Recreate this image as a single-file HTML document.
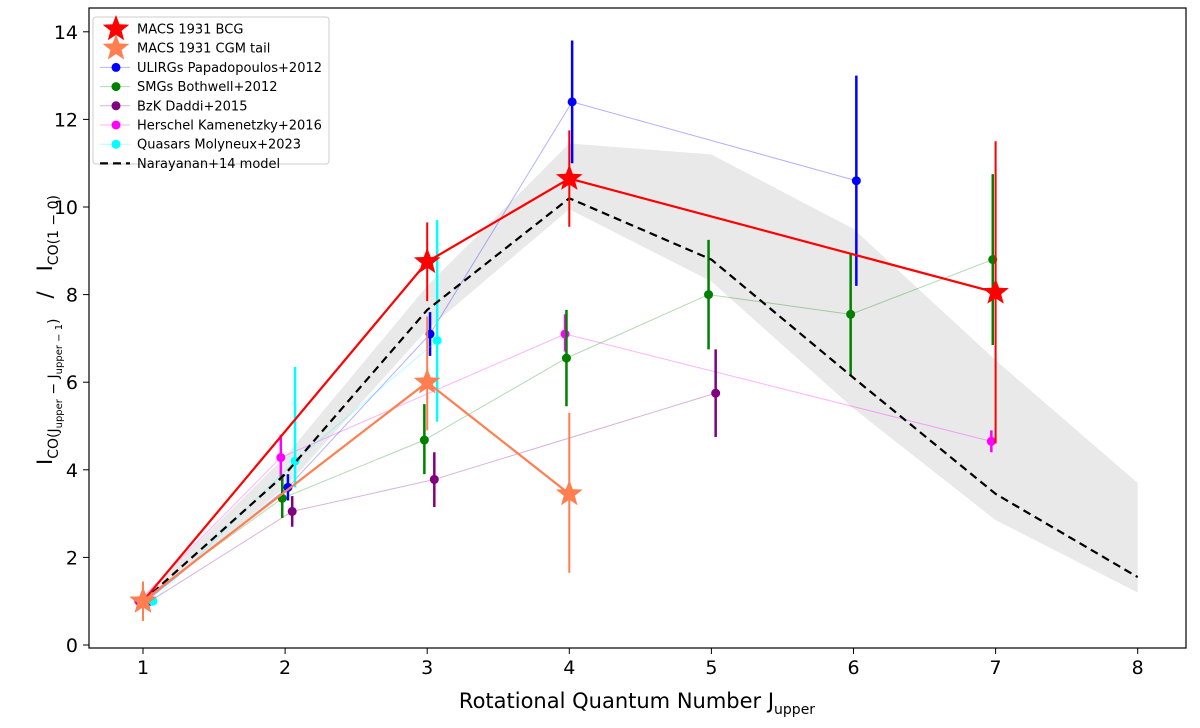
<!DOCTYPE html>
<html><head><meta charset="utf-8"><style>body{margin:0;background:#fff}svg{display:block;font-family:"DejaVu Sans","Liberation Sans",sans-serif}</style></head>
<body>
<svg id="chart" width="1200" height="728" viewBox="0 0 1200 728" xmlns="http://www.w3.org/2000/svg">
<g id="band"></g>
<g id="series"></g>
<rect x="89" y="8" width="1097" height="640" fill="none" stroke="#000" stroke-width="1.2"/>
<g id="xticks"></g>
<g id="yticks"></g>
<text x="637" y="708" font-size="21" text-anchor="middle">Rotational Quantum Number J<tspan font-size="14" dy="6">upper</tspan></text>
<text transform="translate(52,330) rotate(-90)" font-size="21" text-anchor="middle">I<tspan font-size="14" dy="6">CO(J</tspan><tspan font-size="10" dy="4">upper</tspan><tspan font-size="14" dy="-4"> − J</tspan><tspan font-size="10" dy="4">upper − 1</tspan><tspan font-size="14" dy="-4">)</tspan><tspan dy="-6" dx="20">/</tspan><tspan dx="20">I</tspan><tspan font-size="14" dy="6">CO(1 − 0)</tspan></text>
<g>
<rect x="93" y="17" width="236" height="147" rx="3" fill="#fff" fill-opacity="0.8" stroke="#ccc"/>
<g id="legend-items"></g>
</g>
</svg>
<script>
const xTicks=[1,2,3,4,5,6,7,8];
const yTicks=[0,2,4,6,8,10,12,14];
const modelJ=[1,2,3,4,5,6,7,8];
const modelVal=[1,3.9,7.65,10.2,8.8,6.1,3.45,1.55];
const modelHi=[1.1,4.3,8.2,11.45,11.2,9.5,6.5,3.7];
const modelLo=[0.9,3.6,7.2,9.95,8.3,5.4,2.85,1.2];
const bcgJ=[1,3,4,7], bcgV=[1,8.75,10.65,8.05], bcgLo=[1,7.85,9.55,4.6], bcgHi=[1,9.65,11.75,11.5];
const cgmJ=[1,3,4], cgmV=[1,6.0,3.45], cgmLo=[0.55,4.9,1.65], cgmHi=[1.45,7.5,5.3];
const ulJ=[1.02,2.02,3.02,4.02,6.02], ulV=[1,3.6,7.1,12.4,10.6], ulLo=[1,3.3,6.6,11.0,8.2], ulHi=[1,3.9,7.6,13.8,13.0];
const smJ=[0.98,1.98,2.98,3.98,4.98,5.98,6.98], smV=[1,3.35,4.68,6.55,8.0,7.55,8.8], smLo=[1,2.9,3.9,5.45,6.75,6.15,6.85], smHi=[1,3.9,5.5,7.65,9.25,8.95,10.75];
const bzJ=[1.05,2.05,3.05,5.03], bzV=[1,3.05,3.78,5.75], bzLo=[1,2.7,3.15,4.75], bzHi=[1,3.4,4.4,6.75];
const heJ=[0.97,1.97,3.97,6.97], heV=[1,4.28,7.1,4.65], heLo=[1,3.75,6.7,4.4], heHi=[1,4.8,7.55,4.9];
const quJ=[1.07,2.07,3.07], quV=[1,4.2,6.95], quLo=[1,3.6,5.1], quHi=[1,6.35,9.7];
const X=v=>143+(v-1)*142.1, Y=v=>645-v*43.8;
const NS="http://www.w3.org/2000/svg";
function mk(t,a,p){const e=document.createElementNS(NS,t);for(const k in a)e.setAttribute(k,a[k]);p.appendChild(e);return e;}
const band=document.getElementById('band'), ser=document.getElementById('series');
let pts=modelJ.map((j,i)=>X(j)+','+Y(modelHi[i])).concat(modelJ.map((j,i)=>X(j)+','+Y(modelLo[i])).reverse());
const bp=mk('polygon',{points:pts.join(' '),fill:'#d3d3d3','fill-opacity':0.5},band);


function star(cx,cy,r,col,p){let s=[];for(let i=0;i<10;i++){const a=-Math.PI/2+i*Math.PI/5,rr=i%2?r*0.42:r;s.push((cx+rr*Math.cos(a)).toFixed(1)+','+(cy+rr*Math.sin(a)).toFixed(1));}return mk('polygon',{points:s.join(' '),fill:col},p);}
function series(name,J,V,Lo,Hi,col,lw,alpha,ew,marker){
 const g=mk('g',{},ser);
 
 
 mk('polyline',{points:J.map((j,i)=>X(j)+','+Y(V[i])).join(' '),fill:'none',stroke:col,'stroke-width':lw,'stroke-opacity':alpha},g);
 J.forEach((j,i)=>{ if(Hi[i]>Lo[i]) mk('line',{x1:X(j),x2:X(j),y1:Y(Lo[i]),y2:Y(Hi[i]),stroke:col,'stroke-width':ew},g);
  if(marker==='star'){const s=star(X(j),Y(V[i]),14,col,g);}
  else{const c=mk('circle',{cx:X(j),cy:Y(V[i]),r:4.5,fill:col},g);}});
}
series('herschel-series',heJ,heV,heLo,heHi,'#ff00ff',1,0.3,2.5,'dot');
series('bzk-series',bzJ,bzV,bzLo,bzHi,'#800080',1,0.3,2.5,'dot');
series('smg-series',smJ,smV,smLo,smHi,'#008000',1,0.3,2.5,'dot');
series('ulirg-series',ulJ,ulV,ulLo,ulHi,'#0000ff',1,0.3,2.5,'dot');
series('quasar-series',quJ,quV,quLo,quHi,'#00ffff',1,0.3,2.5,'dot');
const ml=mk('polyline',{points:modelJ.map((j,i)=>X(j)+','+Y(modelVal[i])).join(' '),fill:'none',stroke:'#000','stroke-width':2.2,'stroke-dasharray':'8,5'},ser);


series('bcg-series',bcgJ,bcgV,bcgLo,bcgHi,'#ff0000',2.2,1,2,'star');
series('cgm-tail-series',cgmJ,cgmV,cgmLo,cgmHi,'#ff7f50',2.2,1,2,'star');
const xg=document.getElementById('xticks'), yg=document.getElementById('yticks');
xTicks.forEach(t=>{mk('line',{x1:X(t),x2:X(t),y1:648,y2:654,stroke:'#000'},xg);const tx=mk('text',{x:X(t),y:674,'font-size':19,'text-anchor':'middle'},xg);tx.textContent=t;});
yTicks.forEach(t=>{mk('line',{x1:83,x2:89,y1:Y(t),y2:Y(t),stroke:'#000'},yg);const tx=mk('text',{x:78,y:Y(t)+7,'font-size':19,'text-anchor':'end'},yg);tx.textContent=t;});
const legNames=['MACS 1931 BCG','MACS 1931 CGM tail','ULIRGs Papadopoulos+2012','SMGs Bothwell+2012','BzK Daddi+2015','Herschel Kamenetzky+2016','Quasars Molyneux+2023','Narayanan+14 model'];
const legCols=['#ff0000','#ff7f50','#0000ff','#008000','#800080','#ff00ff','#00ffff','#000'];
const lg=document.getElementById('legend-items');
legNames.forEach((n,i)=>{const y=29+i*19.2;const g=mk('g',{},lg);
 
 
 if(i<2) star(116,y,14,legCols[i],g);
 else if(i<7){mk('line',{x1:100,x2:130,y1:y,y2:y,stroke:legCols[i],'stroke-opacity':0.3},g);mk('circle',{cx:116,cy:y,r:4.5,fill:legCols[i]},g);}
 else mk('line',{x1:100,x2:130,y1:y,y2:y,stroke:'#000','stroke-width':2.2,'stroke-dasharray':'8,5'},g);
 const t=mk('text',{x:137,y:y+4.5,'font-size':13},g);t.textContent=n;});
</script>
</body></html>
